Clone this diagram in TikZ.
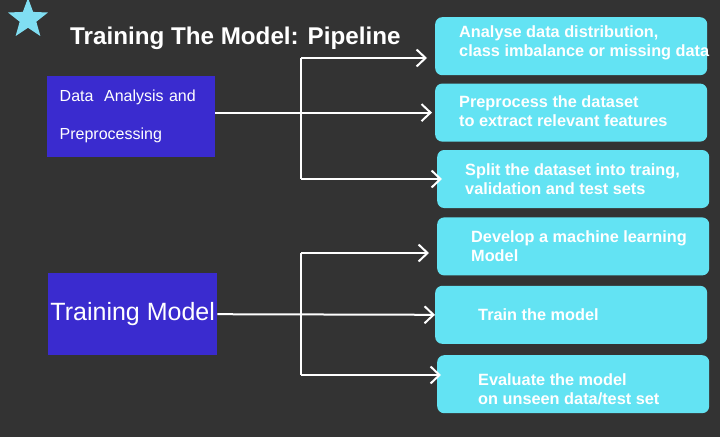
\documentclass[tikz,border=0pt]{standalone}
\usepackage{fontspec}
\setmainfont{Liberation Sans}
\usetikzlibrary{arrows.meta, positioning, shapes.geometric}
\definecolor{tmbg}{HTML}{333333}
\definecolor{tmpurple}{HTML}{3A2BCF}
\definecolor{tmcyan}{HTML}{63E3F3}
\definecolor{tmstar}{HTML}{80DEF2}
\tikzset{
  phase/.style={
    fill=tmpurple, anchor=north west, inner sep=0pt, text=white,
    minimum width=168pt, minimum height=81pt},
  task/.style={
    fill=tmcyan, rounded corners=7pt, inner sep=0pt,
    minimum width=272pt, minimum height=58pt},
  tasktext/.style={
    align=left, text=white, inner sep=0pt,
    font=\fontsize{16.3}{19}\selectfont\bfseries},
  wire/.style={draw=white, line width=2pt},
  feed/.style={wire, -{Straight Barb[length=9pt, width=17pt]}},
}

\begin{document}
\begin{tikzpicture}[x=1pt, y=-1pt]
  \fill[tmbg] (0,0) rectangle (720,437);
  \useasboundingbox (0,0) rectangle (720,437);
  \node[star, star points=5, star point ratio=2.4, fill=tmstar, inner sep=0pt,
        minimum size=42pt] (badge) at (28,19) {};
  \node[anchor=base west, text=white, inner sep=0pt,
        font=\fontsize{24.2}{29}\selectfont\bfseries] (title) at (70,44)
       {Training The Model: Pipeline};
  % left: the two phases
  \node[phase, text width=143pt, align=left,
        font=\fontsize{16}{38}\selectfont] (prep) at (47,76)
       {Data\ \ Analysis and\\Preprocessing};
  \node[phase, minimum width=169pt, minimum height=82pt,
        font=\fontsize{25}{30}\selectfont] (model) at (48,273) {Training Model};
  % right: the tasks
  \node[task, anchor=north west] (distr) at (435,17) {};
  \node[task, below=8pt of distr] (clean) {};
  \node[task, below=8pt of clean, xshift=2pt] (split) {};
  \node[task, below=9pt of split] (develop) {};
  \node[task, below=10pt of develop, xshift=-2pt] (train) {};
  \node[task, below=11pt of train, xshift=2pt] (eval) {};
  \node[tasktext, right=24pt of distr.west, yshift=3pt] (distrtxt)
       {Analyse data distribution,\\class imbalance or missing data};
  \node[tasktext, right=24pt of clean.west, yshift=1pt] (cleantxt)
       {Preprocess the dataset\\to extract relevant features};
  \node[tasktext, right=28pt of split.west] (splittxt)
       {Split the dataset into traing,\\validation and test sets};
  \node[tasktext, right=34pt of develop.west] (developtxt)
       {Develop a machine learning\\Model};
  \node[tasktext, right=43pt of train.west] (traintxt) {Train the model};
  \node[tasktext, right=41pt of eval.west, yshift=-5pt] (evaltxt)
       {Evaluate the model\\on unseen data/test set};
  % forks
  \coordinate (fork1) at (301,58);
  \coordinate (join1) at (301,179);
  \coordinate (fork2) at (301,253);
  \coordinate (join2) at (301,375);
  \draw[wire] (fork1) -- (join1);
  \draw[wire] (fork2) -- (join2);
  \draw[feed, shorten >=8pt] (fork1) -- (distr.west |- fork1);
  \draw[feed, shorten >=3pt] (prep.east |- clean.west) -- (clean.west);
  \draw[feed, shorten >=-5pt] (join1) -- (split.west |- join1);
  \draw[feed, shorten >=8pt] (fork2) -- (develop.west |- fork2);
  \draw[feed] (model.east) -- (train.west);
  \draw[feed, shorten >=-4pt] (join2) -- (eval.west |- join2);
\end{tikzpicture}
\end{document}
